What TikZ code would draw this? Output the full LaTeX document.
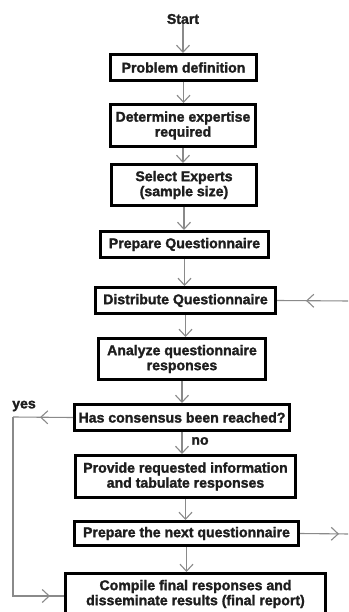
\documentclass[tikz,border=0pt]{standalone}
\usepackage{fontspec}
\setmainfont{Liberation Sans}[BoldFeatures={FakeBold=1.6}]
\usetikzlibrary{arrows.meta,decorations.markings}
\definecolor{conn}{HTML}{8A8A8A}
\definecolor{ink}{HTML}{1E1E1E}
\tikzset{
  x=1pt, y=-1pt,
  vtip/.tip={Straight Barb[length=7pt,width=13pt]},
  stepbox/.style={draw=black, line width=3pt, fill=white, align=center,
    inner sep=0pt, text=ink, font=\bfseries\fontsize{14.1}{15}\selectfont},
  lbl/.style={text=ink, font=\bfseries\fontsize{14.1}{15}\selectfont, inner sep=0pt},
  link/.style={draw=conn, line width=1.1pt},
  linkarrow/.style={link, -{vtip}},
  midarrow/.style={link, postaction={decorate},
    decoration={markings, mark=at position #1 with {\arrow{vtip}}}},
}
\begin{document}
\begin{tikzpicture}
\clip (0,0) rectangle (348,612);
\useasboundingbox (0,0) rectangle (348,612);
\fill[white] (0,0) rectangle (348,612);

\node[lbl] (start) at (183,19) {Start};
\node[stepbox, minimum width=146pt, minimum height=26pt] (p1) at (183.5,67.5) {Problem definition};
\node[stepbox, minimum width=145pt, minimum height=42pt] (p2) at (183,125.5) {Determine expertise\\required};
\node[stepbox, minimum width=145pt, minimum height=41pt] (p3) at (184,185) {Select Experts\\(sample size)};
\node[stepbox, minimum width=168pt, minimum height=26pt] (p4) at (184.5,244.5) {Prepare Questionnaire};
\node[stepbox, minimum width=180pt, minimum height=26pt] (p5) at (185.5,300.5) {Distribute Questionnaire};
\node[stepbox, minimum width=167pt, minimum height=41pt] (p6) at (182,359) {Analyze questionnaire\\responses};
\node[stepbox, minimum width=215pt, minimum height=26pt] (p7) at (182,417.5) {Has consensus been reached?};
\node[stepbox, minimum width=220pt, minimum height=42pt] (p8) at (185.5,476.5) {Provide requested information\\and tabulate responses};
\node[stepbox, minimum width=224pt, minimum height=24pt] (p9) at (186.5,533.5) {Prepare the next questionnaire};
\node[stepbox, minimum width=260pt, minimum height=41pt] (p10) at (195.5,594) {Compile final responses and\\disseminate results (final report)};

\node[lbl] (yes) at (24,406) {yes};
\node[lbl] (no) at (200,441) {no};

\coordinate (din) at (350,301);
\coordinate (dout) at (350,534);
\coordinate (yc1) at (13,417);
\coordinate (yc2) at (13,596);

\draw[linkarrow] (start.south) -- (start.south |- p1.north);
\draw[linkarrow] (p1.south) -- (p1.south |- p2.north);
\draw[linkarrow] (p2.south) -- (p2.south |- p3.north);
\draw[linkarrow] (p3.south) -- (p3.south |- p4.north);
\draw[linkarrow] (p4.south) -- (p4.south |- p5.north);
\draw[linkarrow] (p5.south) -- (p5.south |- p6.north);
\draw[linkarrow] (p6.south) -- (p6.south |- p7.north);
\draw[linkarrow] (p7.south) -- (p7.south |- p8.north);
\draw[linkarrow] (p8.south) -- (p8.south |- p9.north);
\draw[linkarrow] (p9.south) -- (p9.south |- p10.north);

\draw[midarrow=44pt] (din) -- (p5.east);
\draw[midarrow=39pt] (p9.east) -- (dout);
\draw[midarrow=33pt] (p7.west) -- (yc1);
\draw[midarrow=-14pt] (yc1) -- (yc2) -- (yc2 -| p10.west);
\end{tikzpicture}
\end{document}
